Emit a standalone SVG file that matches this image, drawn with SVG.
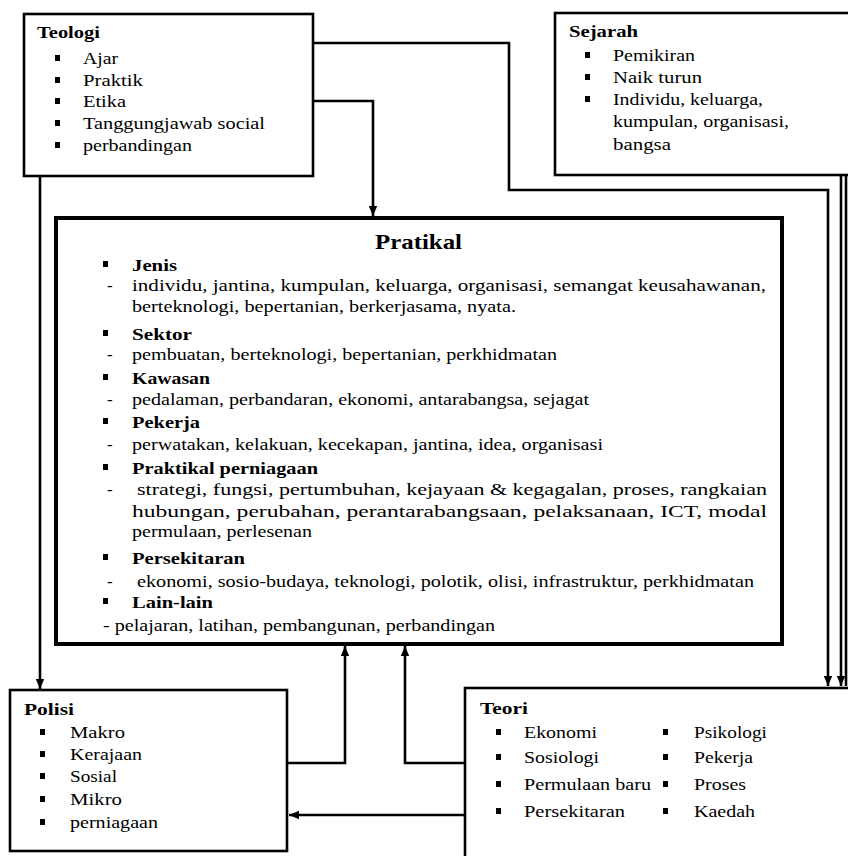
<svg xmlns="http://www.w3.org/2000/svg" width="848" height="856" viewBox="0 0 848 856">
<style>
.box{fill:#fff;stroke:#000;stroke-width:2.6}
.main{fill:#fff;stroke:#000;stroke-width:4}
.t,.s{font-family:"Liberation Serif","Times New Roman",serif;font-size:17.5px;fill:#000}
.t{font-size:17px}
.b{font-weight:bold}
.ttl{font-family:"Liberation Serif","Times New Roman",serif;font-size:22px;font-weight:bold;fill:#000}
.c{fill:none;stroke:#000;stroke-width:2.6}
.bul{fill:#000}
</style>
<defs>
<marker id="ah" markerUnits="userSpaceOnUse" markerWidth="10" markerHeight="10" viewBox="0 0 10 10" refX="10" refY="5" orient="auto">
<path d="M0,0.8 L10,5 L0,9.2 Z" fill="#000"/>
</marker>
</defs>
<rect width="848" height="856" fill="#fff"/>

<g id="connectors">
<path class="c" d="M313,101 H373 V216" marker-end="url(#ah)"/>
<path class="c" d="M313,43 H509 V190 H828 V686" marker-end="url(#ah)"/>
<path class="c" d="M841,175 V686" marker-end="url(#ah)"/>
<path class="c" d="M846,175 V686"/>
<path class="c" d="M40,176 V689" marker-end="url(#ah)"/>
<path class="c" d="M287,763 H345 V646" marker-end="url(#ah)"/>
<path class="c" d="M465,763 H405 V646" marker-end="url(#ah)"/>
<path class="c" d="M465,815 H289" marker-end="url(#ah)"/>
</g>

<g id="teologi">
<rect class="box" x="24" y="14" width="289" height="162"/>
<text class="s b" x="37" y="38" textLength="63" lengthAdjust="spacingAndGlyphs">Teologi</text>
<rect class="bul" x="55" y="55" width="5" height="6"/>
<text class="s" x="83" y="64" textLength="35" lengthAdjust="spacingAndGlyphs">Ajar</text>
<rect class="bul" x="55" y="77" width="5" height="6"/>
<text class="s" x="83" y="86" textLength="60" lengthAdjust="spacingAndGlyphs">Praktik</text>
<rect class="bul" x="55" y="98" width="5" height="6"/>
<text class="s" x="83" y="107" textLength="43" lengthAdjust="spacingAndGlyphs">Etika</text>
<rect class="bul" x="55" y="120" width="5" height="6"/>
<text class="s" x="83" y="129" textLength="182" lengthAdjust="spacingAndGlyphs">Tanggungjawab social</text>
<rect class="bul" x="55" y="142" width="5" height="6"/>
<text class="s" x="83" y="151" textLength="109" lengthAdjust="spacingAndGlyphs">perbandingan</text>
</g>

<g id="sejarah">
<rect class="box" x="555" y="13" width="300" height="162"/>
<text class="s b" x="569" y="37" textLength="69" lengthAdjust="spacingAndGlyphs">Sejarah</text>
<rect class="bul" x="585" y="52" width="5" height="6"/>
<text class="s" x="613" y="61" textLength="82" lengthAdjust="spacingAndGlyphs">Pemikiran</text>
<rect class="bul" x="585" y="74" width="5" height="6"/>
<text class="s" x="613" y="83" textLength="89" lengthAdjust="spacingAndGlyphs">Naik turun</text>
<rect class="bul" x="585" y="96" width="5" height="6"/>
<text class="s" x="613" y="105" textLength="150" lengthAdjust="spacingAndGlyphs">Individu, keluarga,</text>
<text class="s" x="613" y="127" textLength="176" lengthAdjust="spacingAndGlyphs">kumpulan, organisasi,</text>
<text class="s" x="613" y="150" textLength="58" lengthAdjust="spacingAndGlyphs">bangsa</text>
</g>

<g id="pratikal">
<rect class="main" x="56" y="218" width="726" height="426"/>
<text class="ttl" x="375" y="249" textLength="87" lengthAdjust="spacingAndGlyphs">Pratikal</text>
<rect class="bul" x="103" y="261" width="5" height="6"/>
<text class="t b" x="132" y="271" textLength="45" lengthAdjust="spacingAndGlyphs">Jenis</text>
<text class="t" x="107" y="291">-</text>
<text class="t" x="132" y="291" textLength="634" lengthAdjust="spacingAndGlyphs">individu, jantina, kumpulan, keluarga, organisasi,  semangat keusahawanan,</text>
<text class="t" x="132" y="312" textLength="384" lengthAdjust="spacingAndGlyphs">berteknologi, bepertanian, berkerjasama, nyata.</text>
<rect class="bul" x="103" y="330" width="5" height="6"/>
<text class="t b" x="132" y="340" textLength="60" lengthAdjust="spacingAndGlyphs">Sektor</text>
<text class="t" x="107" y="360">-</text>
<text class="t" x="132" y="360" textLength="425" lengthAdjust="spacingAndGlyphs">pembuatan, berteknologi, bepertanian, perkhidmatan</text>
<rect class="bul" x="103" y="374" width="5" height="6"/>
<text class="t b" x="132" y="384" textLength="78" lengthAdjust="spacingAndGlyphs">Kawasan</text>
<text class="t" x="107" y="405">-</text>
<text class="t" x="132" y="405" textLength="457" lengthAdjust="spacingAndGlyphs">pedalaman, perbandaran, ekonomi, antarabangsa, sejagat</text>
<rect class="bul" x="103" y="418" width="5" height="6"/>
<text class="t b" x="132" y="428" textLength="68" lengthAdjust="spacingAndGlyphs">Pekerja</text>
<text class="t" x="107" y="450">-</text>
<text class="t" x="132" y="450" textLength="471" lengthAdjust="spacingAndGlyphs">perwatakan, kelakuan, kecekapan, jantina, idea, organisasi</text>
<rect class="bul" x="103" y="464" width="5" height="6"/>
<text class="t b" x="132" y="474" textLength="186" lengthAdjust="spacingAndGlyphs">Praktikal perniagaan</text>
<text class="t" x="107" y="495">-</text>
<text class="t" x="137" y="495" textLength="630" lengthAdjust="spacingAndGlyphs">strategi, fungsi, pertumbuhan, kejayaan &amp; kegagalan, proses, rangkaian</text>
<text class="t" x="132" y="517" textLength="635" lengthAdjust="spacingAndGlyphs">hubungan, perubahan, perantarabangsaan, pelaksanaan, ICT, modal</text>
<text class="t" x="132" y="537" textLength="180" lengthAdjust="spacingAndGlyphs">permulaan, perlesenan</text>
<rect class="bul" x="103" y="554" width="5" height="6"/>
<text class="t b" x="132" y="564" textLength="113" lengthAdjust="spacingAndGlyphs">Persekitaran</text>
<text class="t" x="107" y="587">-</text>
<text class="t" x="137" y="587" textLength="617" lengthAdjust="spacingAndGlyphs">ekonomi, sosio-budaya, teknologi, polotik, olisi, infrastruktur, perkhidmatan</text>
<rect class="bul" x="103" y="598" width="5" height="6"/>
<text class="t b" x="132" y="608" textLength="81" lengthAdjust="spacingAndGlyphs">Lain-lain</text>
<text class="t" x="103" y="631" textLength="392" lengthAdjust="spacingAndGlyphs">- pelajaran, latihan, pembangunan, perbandingan</text>
</g>

<g id="polisi">
<rect class="box" x="10" y="690" width="277" height="161"/>
<text class="s b" x="24" y="715" textLength="50" lengthAdjust="spacingAndGlyphs">Polisi</text>
<rect class="bul" x="40" y="729" width="5" height="6"/>
<text class="s" x="70" y="738" textLength="55" lengthAdjust="spacingAndGlyphs">Makro</text>
<rect class="bul" x="40" y="751" width="5" height="6"/>
<text class="s" x="70" y="760" textLength="72" lengthAdjust="spacingAndGlyphs">Kerajaan</text>
<rect class="bul" x="40" y="773" width="5" height="6"/>
<text class="s" x="70" y="782" textLength="47" lengthAdjust="spacingAndGlyphs">Sosial</text>
<rect class="bul" x="40" y="796" width="5" height="6"/>
<text class="s" x="70" y="805" textLength="52" lengthAdjust="spacingAndGlyphs">Mikro</text>
<rect class="bul" x="40" y="819" width="5" height="6"/>
<text class="s" x="70" y="828" textLength="88" lengthAdjust="spacingAndGlyphs">perniagaan</text>
</g>

<g id="teori">
<rect class="box" x="465" y="688" width="400" height="190"/>
<text class="s b" x="480" y="714" textLength="48" lengthAdjust="spacingAndGlyphs">Teori</text>
<rect class="bul" x="496" y="729" width="5" height="6"/>
<text class="s" x="524" y="738" textLength="73" lengthAdjust="spacingAndGlyphs">Ekonomi</text>
<rect class="bul" x="496" y="754" width="5" height="6"/>
<text class="s" x="524" y="763" textLength="75" lengthAdjust="spacingAndGlyphs">Sosiologi</text>
<rect class="bul" x="496" y="781" width="5" height="6"/>
<text class="s" x="524" y="790" textLength="127" lengthAdjust="spacingAndGlyphs">Permulaan baru</text>
<rect class="bul" x="496" y="808" width="5" height="6"/>
<text class="s" x="524" y="817" textLength="101" lengthAdjust="spacingAndGlyphs">Persekitaran</text>
<rect class="bul" x="663" y="729" width="5" height="6"/>
<text class="s" x="694" y="738" textLength="73" lengthAdjust="spacingAndGlyphs">Psikologi</text>
<rect class="bul" x="663" y="754" width="5" height="6"/>
<text class="s" x="694" y="763" textLength="59" lengthAdjust="spacingAndGlyphs">Pekerja</text>
<rect class="bul" x="663" y="781" width="5" height="6"/>
<text class="s" x="694" y="790" textLength="52" lengthAdjust="spacingAndGlyphs">Proses</text>
<rect class="bul" x="663" y="808" width="5" height="6"/>
<text class="s" x="694" y="817" textLength="61" lengthAdjust="spacingAndGlyphs">Kaedah</text>
</g>
</svg>
